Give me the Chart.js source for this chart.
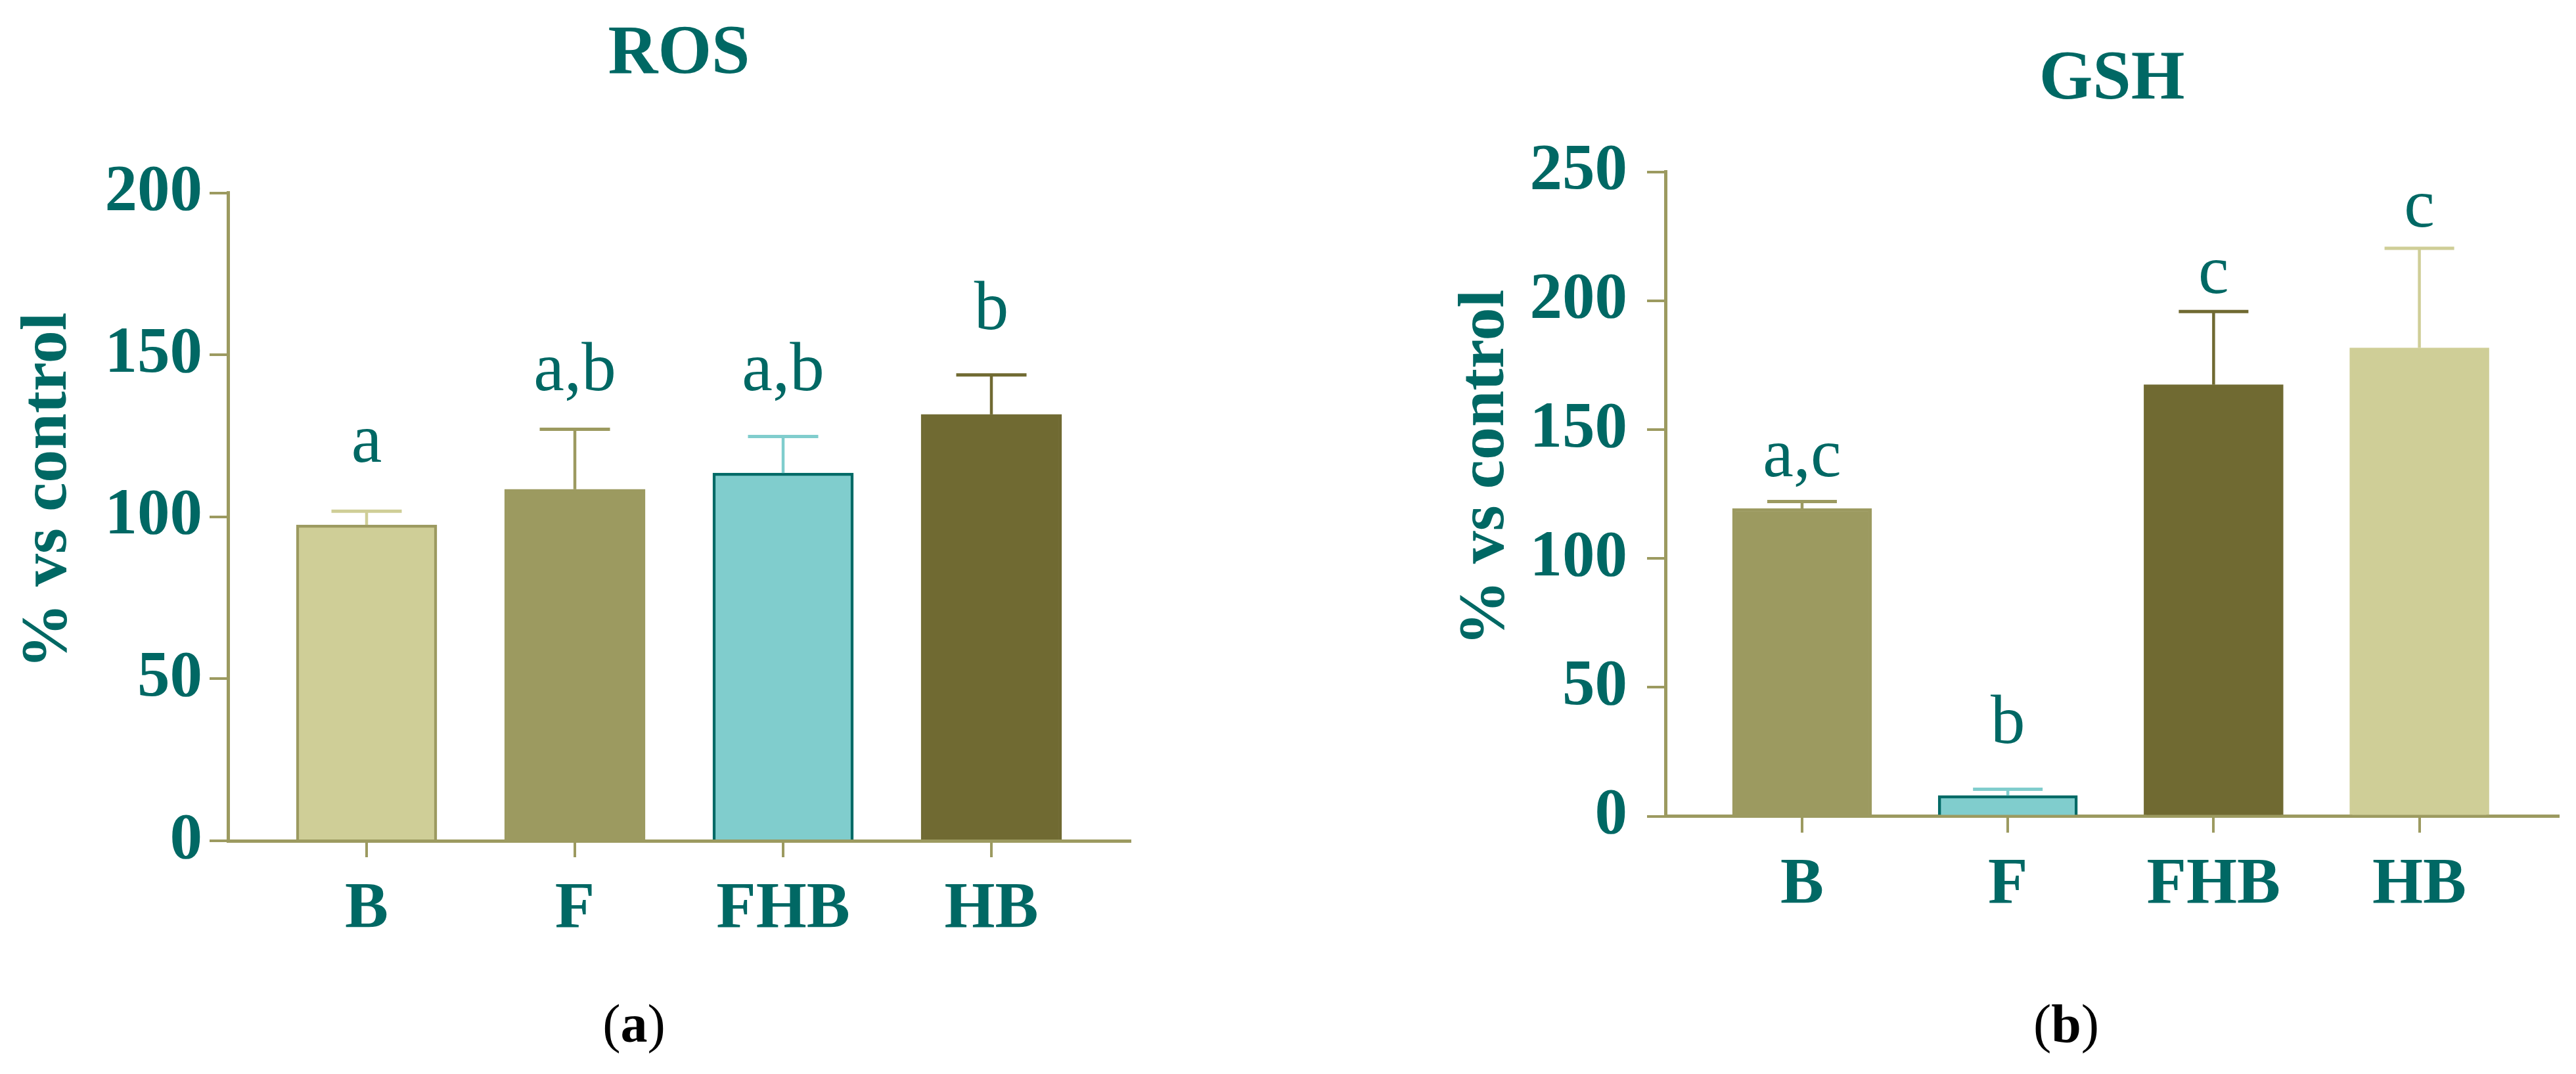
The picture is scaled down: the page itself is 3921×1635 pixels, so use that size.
<!DOCTYPE html>
<html><head><meta charset="utf-8">
<script src="https://cdn.jsdelivr.net/npm/chart.js@4.4.1/dist/chart.umd.min.js"></script>
<style>
html,body{margin:0;padding:0;background:#fff;width:3921px;height:1635px;overflow:hidden;}
.panel{position:absolute;top:0;height:1635px;}
#wa{left:0;width:1960px;}
#wb{left:1960px;width:1961px;}
.cap{position:absolute;top:1519px;font-family:'Liberation Serif',serif;font-size:82px;line-height:80px;color:#000;transform:translateX(-50%);white-space:nowrap;}
</style></head>
<body>
<div class="panel" id="wa"><canvas id="ca" width="1960" height="1635"></canvas></div>
<div class="panel" id="wb"><canvas id="cb" width="1961" height="1635"></canvas></div>
<div class="cap" style="left:965px">(<b>a</b>)</div>
<div class="cap" style="left:3145px">(<b>b</b>)</div>
<script>
// ---- data ----
const categories = ['B', 'F', 'FHB', 'HB'];
const rosValues  = [97.5, 108.5, 113.5, 131.6];
const rosErrors  = [4.2, 18.5, 11.3, 12.2];
const rosLetters = ['a', 'a,b', 'a,b', 'b'];
const rosTicks   = [0, 50, 100, 150, 200];
const gshValues  = [119.4, 8.0, 167.4, 181.7];
const gshErrors  = [2.7, 2.5, 28.4, 38.6];
const gshLetters = ['a,c', 'b', 'c', 'c'];
const gshTicks   = [0, 50, 100, 150, 200, 250];
const yTitle = '% vs control';

// ---- styles ----
const TEAL = '#006864';
const OLIVE = '#9c9a60';
const KHAKI = '#cfce97';
const DARK = '#706a32';
const AQUA = '#80cdcd';
const AQUA_EDGE = '#006a66';
const FONT = "'Liberation Serif', 'DejaVu Serif', serif";

const annotPlugin = {
  id: 'annot',
  afterDatasetsDraw(chart, args, o) {
    const {ctx, chartArea} = chart;
    const x = chart.scales.x, y = chart.scales.y;
    const meta = chart.getDatasetMeta(0);
    ctx.save();
    ctx.lineCap = 'butt';
    o.values.forEach((v, i) => {
      const bar = meta.data[i];
      const cx = x.getPixelForValue(i);
      const top = y.getPixelForValue(v);
      const et = y.getPixelForValue(v + o.errors[i]);
      const half = bar.width * 0.25;
      ctx.strokeStyle = o.colors[i];
      ctx.lineWidth = 4.5;
      ctx.beginPath(); ctx.moveTo(cx, top); ctx.lineTo(cx, et); ctx.stroke();
      ctx.lineWidth = 5;
      ctx.beginPath(); ctx.moveTo(cx - half, et); ctx.lineTo(cx + half, et); ctx.stroke();
      ctx.fillStyle = TEAL;
      ctx.font = '105px ' + FONT;
      ctx.textAlign = 'center';
      ctx.textBaseline = 'alphabetic';
      ctx.fillText(o.letters[i], cx, et - o.gaps[i]);
    });
    ctx.translate(chartArea.left - 273, (chartArea.top + chartArea.bottom) / 2 - 40);
    ctx.rotate(-Math.PI / 2);
    ctx.font = 'bold 100px ' + FONT;
    ctx.fillStyle = TEAL;
    ctx.textAlign = 'center';
    ctx.textBaseline = 'middle';
    ctx.fillText(o.yTitle, 0, 0);
    ctx.restore();
  }
};

function makeChart(id, c) {
  return new Chart(document.getElementById(id), {
    type: 'bar',
    data: {
      datasets: [{
        data: c.values.map((v, i) => ({x: i, y: v})),
        backgroundColor: c.fills,
        borderColor: c.borders,
        borderWidth: 4.5,
        barThickness: c.barThickness
      }]
    },
    plugins: [annotPlugin],
    options: {
      responsive: false,
      animation: false,
      devicePixelRatio: 1,
      layout: {padding: {left: 0, right: c.padRight, top: 0, bottom: 0}},
      plugins: {
        legend: {display: false},
        tooltip: {enabled: false},
        title: {
          display: true, text: c.title, fullSize: false, color: TEAL,
          font: {family: FONT, size: 105, weight: 'bold', lineHeight: 1},
          padding: {top: c.titleTop, bottom: c.titleBottom}
        },
        annot: {values: c.values, errors: c.errors, letters: c.letters, colors: c.fills, gaps: c.gaps, yTitle: yTitle}
      },
      scales: {
        x: {
          type: 'linear', min: c.xMin, max: c.xMax, offset: false, z: 1,
          afterBuildTicks: s => { s.ticks = categories.map((_, i) => ({value: i})); },
          afterFit: s => { s.height = c.xAxisHeight; },
          ticks: {
            autoSkip: false, maxRotation: 0, minRotation: 0, padding: 31, color: TEAL,
            font: {family: FONT, size: 99, weight: 'bold', lineHeight: 1},
            callback: v => categories[v] ?? ''
          },
          grid: {drawOnChartArea: false, offset: false, color: OLIVE, lineWidth: 4, tickLength: 25},
          border: {color: OLIVE, width: 5}
        },
        y: {
          min: c.ticks[0], max: c.ticks[c.ticks.length - 1], z: 1,
          afterBuildTicks: s => { s.ticks = c.ticks.map(v => ({value: v})); },
          afterFit: s => { s.width = c.yAxisWidth; },
          ticks: {
            padding: c.yPad, color: TEAL,
            font: {family: FONT, size: 99, weight: 'bold', lineHeight: 1}
          },
          grid: {drawOnChartArea: false, color: OLIVE, lineWidth: 4, tickLength: 28},
          border: {color: OLIVE, width: 5}
        }
      }
    }
  });
}

makeChart('ca', {
  title: 'ROS', values: rosValues, errors: rosErrors, letters: rosLetters, ticks: rosTicks,
  fills: [KHAKI, OLIVE, AQUA, DARK], borders: [OLIVE, OLIVE, AQUA_EDGE, DARK],
  gaps: [75, 60, 70, 70],
  barThickness: 214, xMin: -0.6656, xMax: 3.6656,
  padRight: 240, yAxisWidth: 347, xAxisHeight: 355, yPad: 11,
  titleTop: 31.5, titleBottom: 157
});

makeChart('cb', {
  title: 'GSH', values: gshValues, errors: gshErrors, letters: gshLetters, ticks: gshTicks,
  fills: [OLIVE, AQUA, DARK, KHAKI], borders: [OLIVE, AQUA_EDGE, DARK, KHAKI],
  gaps: [38, 70, 28, 33],
  barThickness: 212, xMin: -0.664, xMax: 3.675,
  padRight: 27, yAxisWidth: 575, xAxisHeight: 392.4, yPad: 30,
  titleTop: 70.5, titleBottom: 86
});
</script>
</body></html>
